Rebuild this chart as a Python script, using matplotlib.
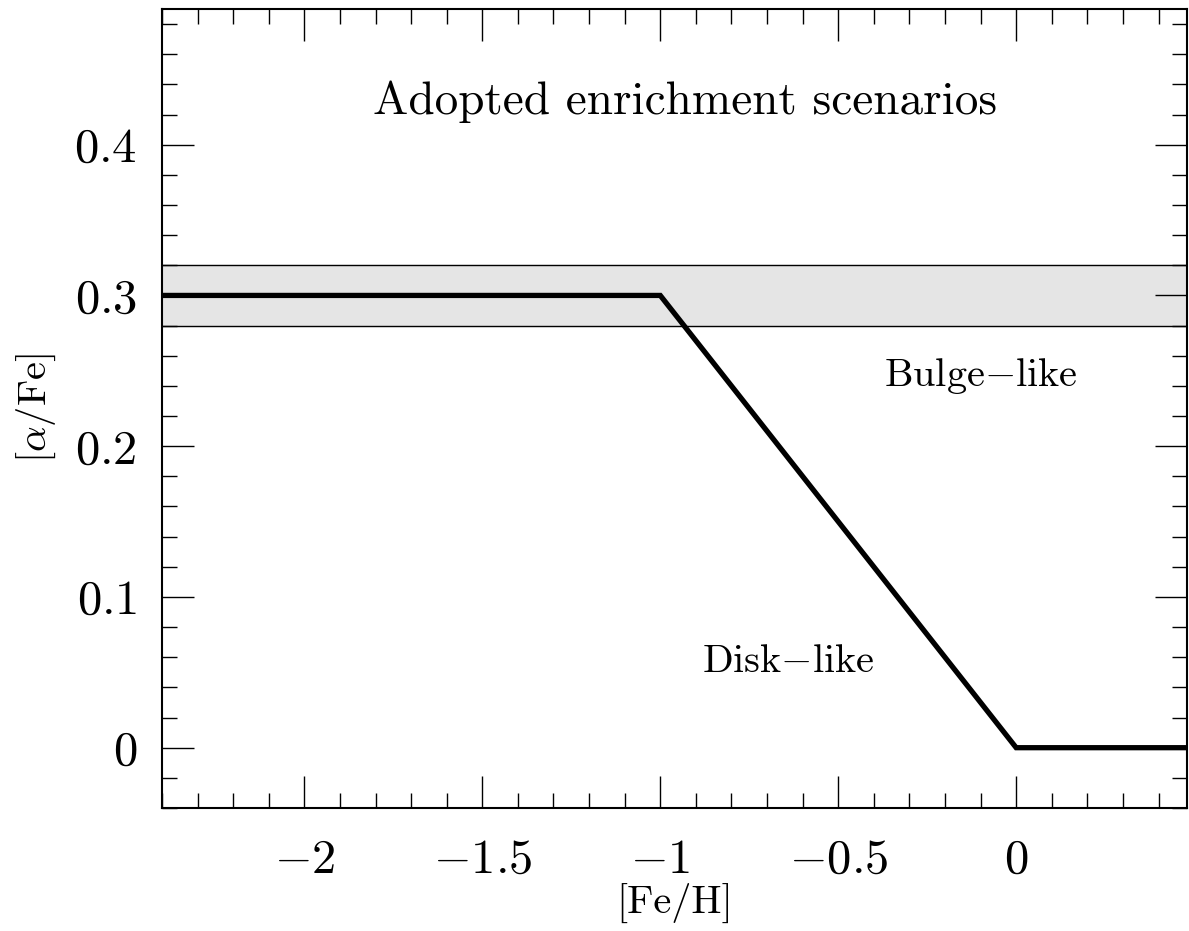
import matplotlib
matplotlib.use("Agg")
import matplotlib.pyplot as plt
from matplotlib.ticker import MultipleLocator, FuncFormatter

plt.rcParams['font.family'] = 'serif'
plt.rcParams['font.serif'] = ['cmr10', 'DejaVu Serif']
plt.rcParams['mathtext.fontset'] = 'cm'
plt.rcParams['axes.unicode_minus'] = False

# enrichment track
feh = [-2.4, -1.0, 0.0, 0.5]
alpha_fe = [0.3, 0.3, 0.0, 0.0]

# bulge-like band
band_lo, band_hi = 0.28, 0.32

fig = plt.figure(figsize=(11.89, 9.31), dpi=100)
ax = fig.add_axes([162/1189, 1-808/931, (1187-162)/1189, (808-9)/931])

ax.axhspan(band_lo, band_hi, color='#e5e5e5', zorder=1)
ax.axhline(band_lo, color='k', lw=1.0, zorder=2)
ax.axhline(band_hi, color='k', lw=1.0, zorder=2)
ax.plot(feh, alpha_fe, color='k', lw=3.8, zorder=3, solid_joinstyle='miter')

ax.set_xlim(-2.4, 0.48)
ax.set_ylim(-0.04, 0.49)

ax.xaxis.set_major_locator(MultipleLocator(0.5))
ax.xaxis.set_minor_locator(MultipleLocator(0.1))
ax.yaxis.set_major_locator(MultipleLocator(0.1))
ax.yaxis.set_minor_locator(MultipleLocator(0.02))
fmt = FuncFormatter(lambda v, p: '$%g$' % round(v, 3))
ax.xaxis.set_major_formatter(fmt)
ax.yaxis.set_major_formatter(fmt)

ax.tick_params(which='both', direction='in', top=True, right=True, width=1.0)
ax.tick_params(which='major', length=23, labelsize=35)
ax.tick_params(axis='x', which='major', pad=22)
ax.tick_params(axis='y', which='major', pad=18)
ax.tick_params(which='minor', length=11)
for s in ax.spines.values():
    s.set_linewidth(1.5)

ax.text(-0.93, 0.4286, 'Adopted enrichment scenarios', fontsize=34,
        ha='center', va='center')
ax.text(-0.10, 0.2465, 'Bulge$-$like', fontsize=29, ha='center', va='center')
ax.text(-0.64, 0.0565, 'Disk$-$like', fontsize=29, ha='center', va='center')

ax.set_xlabel('[Fe/H]', fontsize=29, labelpad=0)
ax.set_ylabel(r'[$\alpha$/Fe]', fontsize=29, labelpad=12)

fig.savefig('out.png', dpi=100)
